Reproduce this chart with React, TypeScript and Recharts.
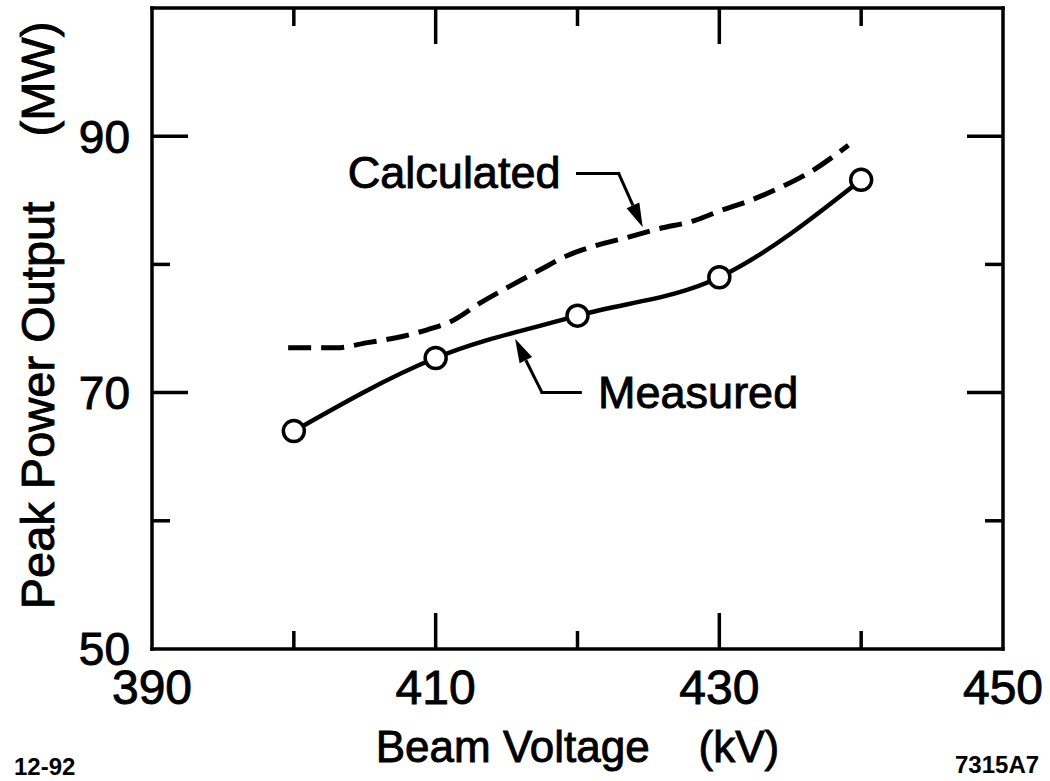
import React from 'react';
import { LineChart, Line, XAxis, YAxis, ReferenceLine, ReferenceDot } from 'recharts';

// ---- data ----
const measuredKv = [400, 410, 420, 430, 440];
const measuredMw = [67.0, 72.7, 76.0, 79.0, 86.6];

const calculatedKv = [399.6, 403, 405.2, 407.3, 409.4, 411, 413.3, 415.4, 417.4, 419.3, 421.1, 423.5, 425.8, 428.2, 430.1, 432.2, 434.3, 436.4, 439.1];
const calculatedMw = [73.5, 73.5, 73.9, 74.3, 74.9, 75.5, 77.1, 78.4, 79.6, 80.7, 81.4, 82.1, 82.8, 83.4, 84.2, 85.0, 86.0, 87.2, 89.3];

const xLabelTicks = [390, 410, 430, 450];
const xMajorTicks = [410, 430];
const xMinorTicks = [400, 420, 440];
const yLabelTicks = [50, 70, 90];
const yMajorTicks = [70, 90];
const yMinorTicks = [60, 80];

const xDomain: [number, number] = [390, 450];
const yDomain: [number, number] = [50, 100];

// annotation anchors (data coordinates)
const calcText = { kv: 418.8, mw: 85.96, text: 'Calculated' };
const calcArrow = [
  { x: 420.0, y: 87.1 },
  { x: 422.9, y: 87.1 },
  { x: 424.6, y: 82.9 },
];
const measText = { kv: 421.45, mw: 68.8, text: 'Measured' };
const measArrow = [
  { x: 420.2, y: 70.0 },
  { x: 417.5, y: 70.0 },
  { x: 415.6, y: 74.2 },
];

const measured = measuredKv.map((kv, i) => ({ kv, mw: measuredMw[i] }));
const calculated = calculatedKv.map((kv, i) => ({ kv, mw: calculatedMw[i] }));

const FONT = '"Liberation Sans", Arial, Helvetica, sans-serif';
const FRAME = { stroke: '#000', strokeWidth: 3.5, strokeLinecap: 'square' as const };
const TXT = { fontFamily: FONT, fill: '#000', stroke: '#000', strokeWidth: 0.9 };
const MAJOR_LEN = 36;
const MINOR_LEN = 17;

// inward tick mark of fixed length, drawn at the position the axis scale gives
const frameTick = (side: 'top' | 'bottom' | 'left' | 'right', len: number) => (p: any) => {
  const x = Number(p.x);
  const y = Number(p.y);
  let x2 = x;
  let y2 = y;
  if (side === 'bottom') y2 = y - len;
  if (side === 'top') y2 = y + len;
  if (side === 'left') x2 = x + len;
  if (side === 'right') x2 = x - len;
  return <line x1={x} y1={y} x2={x2} y2={y2} stroke="#000" strokeWidth={3.5} />;
};

const arrowShape = (head: boolean) => (p: any) => {
  const { x1, y1, x2, y2 } = p;
  if (!head) {
    return <line x1={x1} y1={y1} x2={x2} y2={y2} stroke="#000" strokeWidth={3} strokeLinecap="square" />;
  }
  const a = Math.atan2(y2 - y1, x2 - x1);
  const L = 24;
  const W = 7;
  const bx = x2 - L * Math.cos(a);
  const by = y2 - L * Math.sin(a);
  const nx = -Math.sin(a);
  const ny = Math.cos(a);
  return (
    <g>
      <line x1={x1} y1={y1} x2={bx} y2={by} stroke="#000" strokeWidth={3} />
      <polygon points={`${x2},${y2} ${bx + W * nx},${by + W * ny} ${bx - W * nx},${by - W * ny}`} fill="#000" />
    </g>
  );
};

const textShape = (text: string, anchor: 'start' | 'end') => (p: any) => (
  <text x={p.cx} y={p.cy} textAnchor={anchor} fontSize={45} {...TXT}>
    {text}
  </text>
);

const XTitle = (p: any) => {
  const vb = p.viewBox || {};
  return (
    <text x={vb.x + vb.width / 2} y={vb.y + 113} textAnchor="middle" fontSize={44} {...TXT}>
      {'Beam Voltage\u00A0\u00A0\u00A0\u00A0(kV)'}
    </text>
  );
};

const YTitle = (p: any) => {
  const vb = p.viewBox || {};
  const cx = vb.x + 54;
  const cy = vb.y + vb.height / 2 - 13;
  return (
    <text x={cx} y={cy} textAnchor="middle" fontSize={47} {...TXT} transform={`rotate(-90, ${cx}, ${cy})`}>
      {'Peak Power Output\u00A0\u00A0\u00A0\u00A0\u00A0(MW)'}
    </text>
  );
};

const mirrorX = (id: string, side: 'top' | 'bottom', ticks: number[], len: number, line: boolean) => (
  <XAxis
    key={id}
    xAxisId={id}
    type="number"
    dataKey="kv"
    domain={xDomain}
    ticks={ticks}
    interval={0}
    allowDataOverflow
    orientation={side}
    mirror
    height={1}
    tickSize={0}
    tickMargin={0}
    tick={frameTick(side, len)}
    axisLine={line ? FRAME : false}
    tickLine={false}
  />
);

const mirrorY = (id: string, side: 'left' | 'right', ticks: number[], len: number, line: boolean) => (
  <YAxis
    key={id}
    yAxisId={id}
    type="number"
    domain={yDomain}
    ticks={ticks}
    interval={0}
    allowDataOverflow
    orientation={side}
    mirror
    width={1}
    tickSize={0}
    tickMargin={0}
    tick={frameTick(side, len)}
    axisLine={line ? FRAME : false}
    tickLine={false}
  />
);

export default function App() {
  return (
    <div style={{ position: 'relative', width: 1050, height: 781 }}>
      <style>{'body{margin:0;background:#fff;}'}</style>
      <LineChart width={1050} height={781} margin={{ top: 8, right: 47, left: 0, bottom: 0 }}>
        {/* bottom labelled axis */}
        <XAxis
          xAxisId={0}
          type="number"
          dataKey="kv"
          domain={xDomain}
          ticks={xLabelTicks}
          interval={0}
          allowDataOverflow
          height={132}
          tickSize={0}
          tickMargin={21}
          tickLine={false}
          axisLine={FRAME}
          tick={{ fontSize: 48, ...TXT }}
          label={{ content: XTitle }}
        />
        {mirrorX('bMaj', 'bottom', xMajorTicks, MAJOR_LEN, false)}
        {mirrorX('bMin', 'bottom', xMinorTicks, MINOR_LEN, false)}
        {mirrorX('tMaj', 'top', xMajorTicks, MAJOR_LEN, true)}
        {mirrorX('tMin', 'top', xMinorTicks, MINOR_LEN, false)}

        {/* left labelled axis */}
        <YAxis
          yAxisId={0}
          type="number"
          domain={yDomain}
          ticks={yLabelTicks}
          interval={0}
          allowDataOverflow
          width={152}
          tickSize={0}
          tickMargin={22}
          tickLine={false}
          axisLine={FRAME}
          tick={{ fontSize: 46, ...TXT }}
          label={{ content: YTitle }}
        />
        {mirrorY('lMaj', 'left', yMajorTicks, MAJOR_LEN, false)}
        {mirrorY('lMin', 'left', yMinorTicks, MINOR_LEN, false)}
        {mirrorY('rMaj', 'right', yMajorTicks, MAJOR_LEN, true)}
        {mirrorY('rMin', 'right', yMinorTicks, MINOR_LEN, false)}

        <Line
          data={calculated}
          dataKey="mw"
          type="monotone"
          stroke="#000"
          strokeWidth={5}
          strokeDasharray="23 10"
          dot={false}
          isAnimationActive={false}
        />
        <Line
          data={measured}
          dataKey="mw"
          type="monotone"
          stroke="#000"
          strokeWidth={4.5}
          dot={{ r: 10.5, fill: '#fff', stroke: '#000', strokeWidth: 3.5 }}
          isAnimationActive={false}
        />

        <ReferenceLine segment={[calcArrow[0], calcArrow[1]]} shape={arrowShape(false)} />
        <ReferenceLine segment={[calcArrow[1], calcArrow[2]]} shape={arrowShape(true)} />
        <ReferenceLine segment={[measArrow[0], measArrow[1]]} shape={arrowShape(false)} />
        <ReferenceLine segment={[measArrow[1], measArrow[2]]} shape={arrowShape(true)} />

        <ReferenceDot x={calcText.kv} y={calcText.mw} r={0} shape={textShape(calcText.text, 'end')} />
        <ReferenceDot x={measText.kv} y={measText.mw} r={0} shape={textShape(measText.text, 'start')} />
      </LineChart>
      <svg width={1050} height={781} style={{ position: 'absolute', left: 0, top: 0, pointerEvents: 'none' }}>
        <text x={14} y={775} fontFamily={FONT} fontWeight="bold" fontSize={24} fill="#000">12-92</text>
        <text x={955} y={773} fontFamily={FONT} fontWeight="bold" fontSize={24} fill="#000">7315A7</text>
      </svg>
    </div>
  );
}
